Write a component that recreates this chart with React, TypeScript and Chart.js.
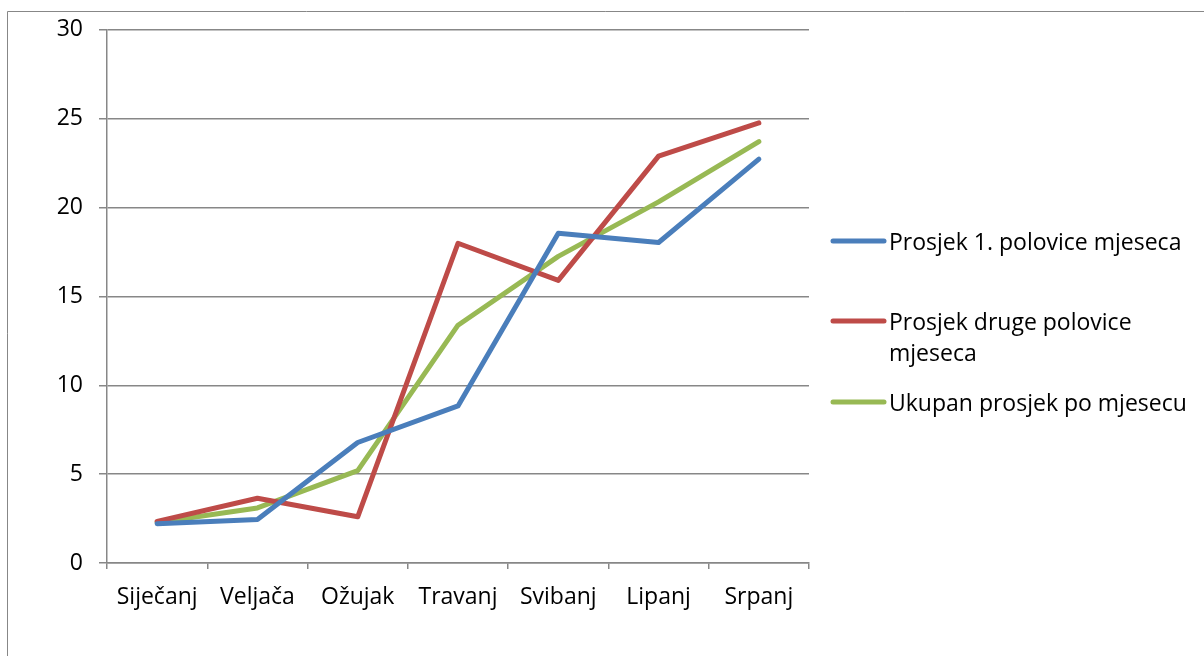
import React, { useEffect, useRef } from "react";
import { Chart, registerables } from "chart.js";

Chart.register(...registerables);

const months = ["Siječanj", "Veljača", "Ožujak", "Travanj", "Svibanj", "Lipanj", "Srpanj"];
const firstHalf = [2.21, 2.45, 6.78, 8.84, 18.55, 18.03, 22.72];
const secondHalf = [2.34, 3.64, 2.6, 17.99, 15.9, 22.89, 24.76];
const monthTotal = [2.28, 3.1, 5.2, 13.38, 17.25, 20.32, 23.71];
const seriesNames = [
  "Prosjek 1. polovice mjeseca",
  "Prosjek druge polovice mjeseca",
  "Ukupan prosjek po mjesecu",
];
const seriesColors = ["#4a7ebb", "#be4b48", "#98b954"];
const yMin = 0;
const yMax = 30;
const yStep = 5;

const FONT = "'Open Sans', sans-serif";
const FONT_SIZE = 23;
const GRID = "#878787";

export default function App() {
  const ref = useRef<HTMLCanvasElement>(null);

  useEffect(() => {
    const canvas = ref.current;
    if (!canvas) return;

    const legendY = [241, 321, 402];

    const framePlugin = {
      id: "frameAndLegend",
      beforeDraw(chart: any) {
        const ctx = chart.ctx;
        ctx.save();
        ctx.fillStyle = "#ffffff";
        ctx.fillRect(0, 0, chart.width, chart.height);
        ctx.restore();
      },
      afterDraw(chart: any) {
        const ctx = chart.ctx;
        ctx.save();
        ctx.strokeStyle = GRID;
        ctx.lineWidth = 1;
        ctx.beginPath();
        ctx.moveTo(7.5, chart.height);
        ctx.lineTo(7.5, 11.5);
        ctx.lineTo(chart.width, 11.5);
        ctx.stroke();

        ctx.font = `${FONT_SIZE}px ${FONT}`;
        ctx.textBaseline = "alphabetic";
        ctx.textAlign = "left";
        const maxW = 305;
        chart.data.datasets.forEach((ds: any, i: number) => {
          const y = legendY[i];
          ctx.strokeStyle = ds.borderColor;
          ctx.lineWidth = 5;
          ctx.lineCap = "round";
          ctx.beginPath();
          ctx.moveTo(833, y);
          ctx.lineTo(884, y);
          ctx.stroke();
          const words = String(ds.label).split(" ");
          const lines: string[] = [];
          let cur = "";
          for (const w of words) {
            const test = cur ? cur + " " + w : w;
            if (ctx.measureText(test).width > maxW && cur) {
              lines.push(cur);
              cur = w;
            } else {
              cur = test;
            }
          }
          if (cur) lines.push(cur);
          ctx.fillStyle = "#000000";
          lines.forEach((ln, k) => {
            ctx.fillText(ln, 889, y + 8.5 + k * 31.5);
          });
        });
        ctx.restore();
      },
    };

    const data = [firstHalf, secondHalf, monthTotal];

    const chart = new Chart(canvas, {
      type: "line",
      data: {
        labels: months,
        datasets: data.map((d, i) => ({
          label: seriesNames[i],
          data: d,
          borderColor: seriesColors[i],
          backgroundColor: seriesColors[i],
          borderWidth: 5,
          pointRadius: 0,
          pointHoverRadius: 0,
          tension: 0,
          borderJoinStyle: "round" as const,
          borderCapStyle: "round" as const,
          fill: false,
        })),
      },
      options: {
        responsive: false,
        animation: false,
        devicePixelRatio: 1,
        layout: { padding: { left: 0, top: 28, right: 395, bottom: 0 } },
        plugins: {
          legend: { display: false },
          tooltip: { enabled: false },
          title: { display: false },
        },
        scales: {
          x: {
            type: "category",
            offset: true,
            grid: {
              display: true,
              offset: true,
              drawOnChartArea: false,
              drawTicks: true,
              tickLength: 6,
              color: GRID,
              lineWidth: 1.5,
            },
            border: { display: true, color: GRID, width: 1.5 },
            ticks: {
              color: "#000000",
              font: { family: FONT, size: FONT_SIZE },
              padding: 15,
              maxRotation: 0,
              autoSkip: false,
            },
            afterFit(scale: any) {
              scale.height = 93;
            },
          },
          y: {
            min: yMin,
            max: yMax,
            grid: {
              color: GRID,
              lineWidth: 1.5,
              drawTicks: true,
              tickLength: 8,
            },
            border: { display: true, color: GRID, width: 1.5 },
            ticks: {
              stepSize: yStep,
              color: "#000000",
              font: { family: FONT, size: FONT_SIZE },
              padding: 16,
            },
            afterFit(scale: any) {
              scale.width = 107;
            },
          },
        },
      },
      plugins: [framePlugin],
    });

    return () => {
      chart.destroy();
    };
  }, []);

  return (
    <div style={{ position: "absolute", left: 0, top: 0, width: 1204, height: 656, background: "#fff" }}>
      <canvas ref={ref} width={1204} height={656} style={{ display: "block", width: 1204, height: 656 }} />
    </div>
  );
}
